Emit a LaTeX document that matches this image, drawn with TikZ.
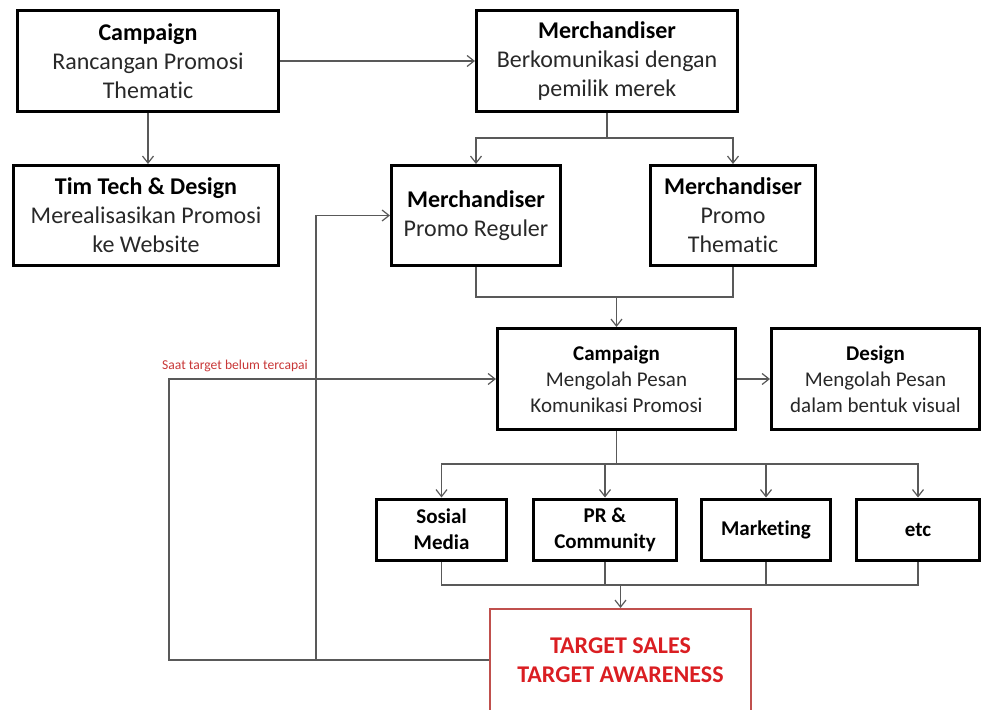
\documentclass[tikz,border=0pt]{standalone}
\usepackage{fontspec}
\setmainfont{Carlito}[Ligatures={NoCommon}]
\usetikzlibrary{arrows.meta}
\definecolor{linegray}{RGB}{89,89,89}
\definecolor{txtgray}{RGB}{40,40,40}
\definecolor{tgtred}{RGB}{218,30,34}
\definecolor{tgtframe}{RGB}{192,80,77}
\definecolor{notered}{RGB}{200,55,55}
\newcommand{\boxhead}[1]{\textcolor{black}{\bfseries #1}}
\begin{document}
\begin{tikzpicture}[x=1pt,y=-1pt,
  bigbox/.style={draw,line width=3pt,align=center,minimum height=100pt,
    text=txtgray,font=\fontsize{24}{29}\selectfont},
  midbox/.style={draw,line width=3pt,align=center,minimum height=101pt,
    text=txtgray,font=\fontsize{21}{26}\selectfont},
  chanbox/.style={draw,line width=3pt,align=center,minimum height=61pt,
    font=\fontsize{21}{26}\selectfont\bfseries},
  conn/.style={linegray,line width=1.2pt},
  arr/.style={conn,-{Straight Barb[length=7pt,width=11pt]}}]
  \useasboundingbox (0,0) rectangle (981,709);
  \clip (0,0) rectangle (981,709);

  \node[bigbox,minimum width=261pt] (camp) at (148,61) {\boxhead{Campaign}\\Rancangan Promosi\\Thematic};
  \node[bigbox,minimum width=261pt] (merch) at (607,61) {\boxhead{Merchandiser}\\Berkomunikasi dengan\\pemilik merek};
  \node[bigbox,minimum width=265pt] (tim) at (146,215.5) {\boxhead{Tim Tech \& Design}\\Merealisasikan Promosi\\ke Website};
  \node[bigbox,minimum width=169pt] (reg) at (476,215.5) {\boxhead{Merchandiser}\\Promo Reguler};
  \node[bigbox,minimum width=165pt] (them) at (733,215.5) {\boxhead{Merchandiser}\\Promo\\Thematic};
  \node[midbox,minimum width=238pt] (cmid) at (616.5,379) {\boxhead{Campaign}\\Mengolah Pesan\\Komunikasi Promosi};
  \node[midbox,minimum width=208pt] (des) at (875.5,379) {\boxhead{Design}\\Mengolah Pesan\\dalam bentuk visual};
  \node[chanbox,minimum width=130pt] (sos) at (441.5,529.5) {Sosial\\Media};
  \node[chanbox,minimum width=143pt] (pr) at (605,529.5) {PR \&\\Community};
  \node[chanbox,minimum width=129pt] (mkt) at (766,529.5) {Marketing};
  \node[chanbox,minimum width=123pt] (etc) at (918,529.5) {etc};
  \node[draw=tgtframe,line width=2pt,minimum width=261pt,minimum height=102pt,align=center,
    text=tgtred,font=\fontsize{24}{29}\selectfont\bfseries] (tgt) at (620.5,660) {TARGET SALES\\TARGET AWARENESS};
  \node[text=notered,font=\fontsize{13.6}{16}\selectfont,anchor=base west,inner sep=0pt] (note) at (162,369) {Saat target belum tercapai};

  \coordinate (b1) at (607,138);
  \coordinate (j1) at (616.5,297);
  \coordinate (b2) at (616.5,464);
  \coordinate (j2) at (620.5,585);
  \coordinate (fb1) at (316,660);
  \coordinate (fb2) at (169,660);

  \draw[arr] (camp.east) -- (merch.west);
  \draw[arr] (camp.south) -- (camp.south |- tim.north);
  \draw[conn] (merch.south) -- (b1);
  \draw[arr] (b1) -| (reg.north);
  \draw[arr] (b1) -| (them.north);
  \draw[conn] (reg.south) |- (j1) -| (them.south);
  \draw[arr] (j1) -- (cmid.north);
  \draw[arr] (cmid.east) -- (des.west);
  \draw[conn] (cmid.south) -- (b2);
  \foreach \n in {sos,pr,mkt,etc}
    \draw[arr] (b2) -| (\n.north);
  \draw[conn] (sos.south) |- (j2) -| (etc.south);
  \draw[conn] (pr.south) -- (pr.south |- j2);
  \draw[conn] (mkt.south) -- (mkt.south |- j2);
  \draw[arr] (j2) -- (tgt.north);
  \draw[arr] (tgt.west) -- (fb1) |- (reg.west);
  \draw[arr] (fb1) -- (fb2) |- (cmid.west);
\end{tikzpicture}
\end{document}
